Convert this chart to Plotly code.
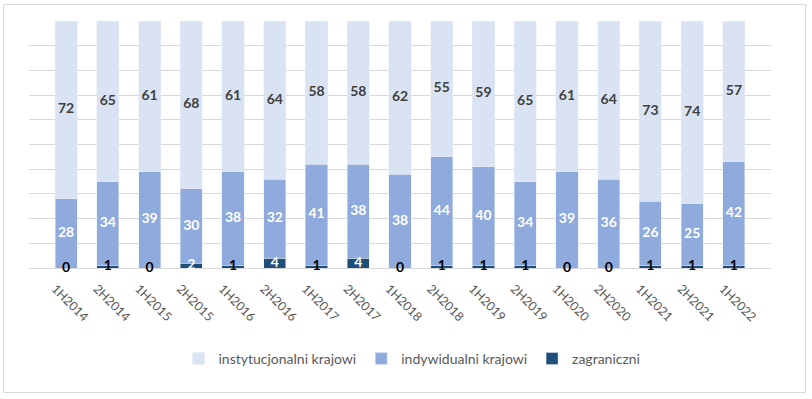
import plotly.graph_objects as go

categories = ["1H2014", "2H2014", "1H2015", "2H2015", "1H2016", "2H2016", "1H2017", "2H2017",
              "1H2018", "2H2018", "1H2019", "2H2019", "1H2020", "2H2020", "1H2021", "2H2021", "1H2022"]
zagraniczni = [0, 1, 0, 2, 1, 4, 1, 4, 0, 1, 1, 1, 0, 0, 1, 1, 1]
indywidualni = [28, 34, 39, 30, 38, 32, 41, 38, 38, 44, 40, 34, 39, 36, 26, 25, 42]
instytucjonalni = [72, 65, 61, 68, 61, 64, 58, 58, 62, 55, 59, 65, 61, 64, 73, 74, 57]

C_INST = "#DAE3F3"
C_IND = "#8FAADC"
C_ZAG = "#1F4E79"
FONT = "Lato"

fig = go.Figure()
fig.add_bar(x=categories, y=zagraniczni, name="zagraniczni", marker_color=C_ZAG,
            legendrank=3)
fig.add_bar(x=categories, y=indywidualni, name="indywidualni krajowi", marker_color=C_IND,
            legendrank=2)
fig.add_bar(x=categories, y=instytucjonalni, name="instytucjonalni krajowi", marker_color=C_INST,
            legendrank=1)

# data labels at segment centers
y_zag = [z / 2 for z in zagraniczni]
y_ind = [z + i / 2 for z, i in zip(zagraniczni, indywidualni)]
y_inst = [z + i + s / 2 for z, i, s in zip(zagraniczni, indywidualni, instytucjonalni)]
zag_colors = ["#FFFFFF" if v >= 2 else "#000000" for v in zagraniczni]

lbl = dict(mode="text", showlegend=False, hoverinfo="skip", cliponaxis=False)
fig.add_scatter(x=categories, y=y_zag, text=[str(v) for v in zagraniczni],
                textfont=dict(family=FONT, size=14, color=zag_colors, weight="bold"), **lbl)
fig.add_scatter(x=categories, y=y_ind, text=[str(v) for v in indywidualni],
                textfont=dict(family=FONT, size=14, color="#FFFFFF", weight="bold"), **lbl)
fig.add_scatter(x=categories, y=y_inst, text=[str(v) for v in instytucjonalni],
                textfont=dict(family=FONT, size=14, color="#404040", weight="bold"), **lbl)

W, H = 812, 399
L, R, T, B = 29, 41, 21, 131
pw, ph = W - L - R, H - T - B

def px_x(x):
    return (x - L) / pw

def px_y(y):
    return (H - B - y) / ph

fig.update_layout(
    width=W, height=H,
    margin=dict(l=L, r=R, t=T, b=B, pad=0),
    barmode="stack",
    bargap=0.47,
    plot_bgcolor="white",
    paper_bgcolor="white",
    font=dict(family=FONT, color="#595959"),
    xaxis=dict(tickangle=45, tickfont=dict(size=12.5, color="#595959"), showgrid=False,
               showline=False, ticks="", ticklen=0, ticklabelstandoff=10, ticklabelshift=-11),
    yaxis=dict(range=[0, 100], dtick=10, showticklabels=False, gridcolor="#D9D9D9",
               gridwidth=1, zeroline=True, zerolinecolor="#D9D9D9", zerolinewidth=1,
               showline=False, ticks=""),
    legend=dict(orientation="h", x=px_x(412), xanchor="center", y=px_y(359), yanchor="middle",
                font=dict(size=14, color="#595959"), traceorder="normal"),
    shapes=[dict(type="rect", xref="paper", yref="paper",
                 x0=px_x(3.5), x1=px_x(805.5), y0=px_y(392.5), y1=px_y(4.5),
                 line=dict(color="#D9D9D9", width=1), fillcolor="rgba(0,0,0,0)", layer="below")],
)

fig.write_html("out.html", config={"displayModeBar": False},
               post_script="document.body.style.margin='0';")
